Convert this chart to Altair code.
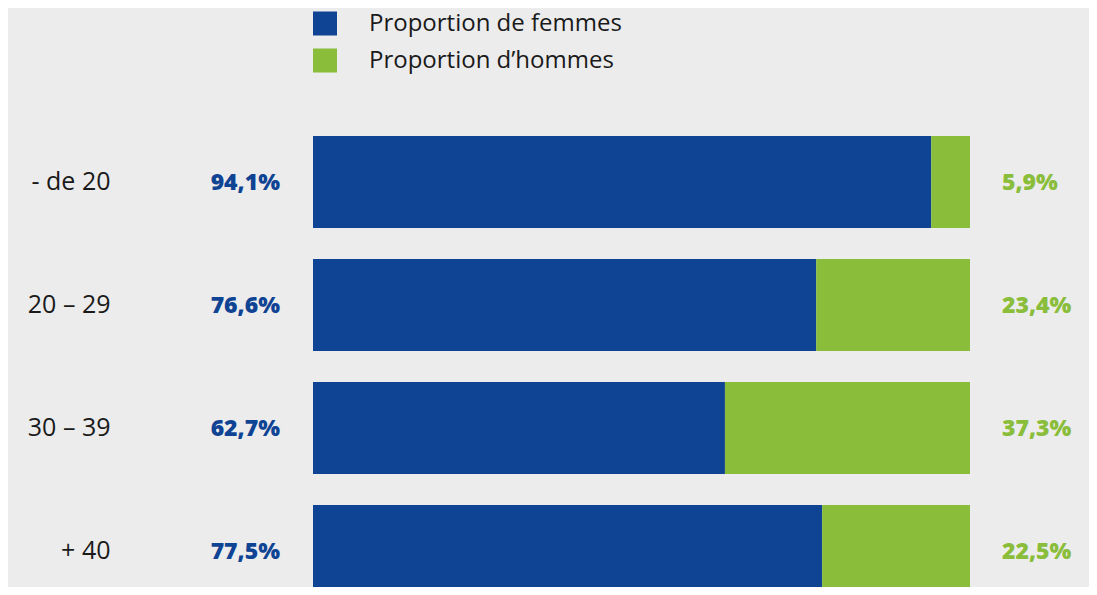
import altair as alt
import pandas as pd

ages = ["- de 20", "20 – 29", "30 – 39", "+ 40"]
femmes = [94.1, 76.6, 62.7, 77.5]
hommes = [5.9, 23.4, 37.3, 22.5]
series = ["Proportion de femmes", "Proportion d’hommes"]
colors = ["#0f4394", "#89bd3a"]

rows = []
for a, f, h in zip(ages, femmes, hommes):
    rows.append({"age": a, "serie": series[0], "val": f, "ord": 0,
                 "lab": f"{f:.1f}".replace(".", ",") + "%"})
    rows.append({"age": a, "serie": series[1], "val": h, "ord": 1,
                 "lab": f"{h:.1f}".replace(".", ",") + "%"})
df = pd.DataFrame(rows)

FONT = "Open Sans"

yscale = alt.Scale(paddingInner=0.252, paddingOuter=0.126, range=[0, 492])
y = alt.Y("age:N", sort=ages, title=None, scale=yscale,
          axis=alt.Axis(domain=False, ticks=False, grid=False, labelFontSize=25,
                        labelFont=FONT, labelColor="#1a1a1a", labelAlign="right",
                        labelPadding=203))

xscale = alt.Scale(domain=[0, 100], nice=False)

bars = alt.Chart(df).mark_bar().encode(
    x=alt.X("val:Q", stack="zero", scale=xscale, axis=None),
    y=y,
    color=alt.Color("serie:N", sort=series,
                    scale=alt.Scale(domain=series, range=colors),
                    legend=alt.Legend(title=None, orient="none", legendX=0, legendY=-109,
                                      symbolType="square", symbolSize=576,
                                      symbolStrokeWidth=0, symbolOpacity=1,
                                      labelFontSize=24, labelFont=FONT, labelLimit=500,
                                      labelColor="#1a1a1a", labelOffset=32,
                                      rowPadding=13, padding=0)),
    order=alt.Order("ord:Q"),
)

lab_f = alt.Chart(df).transform_filter(alt.datum.ord == 0).mark_text(
    align="right", baseline="middle", dx=-33, dy=1, fontSize=23, fontWeight=800,
    font=FONT, color=colors[0]
).encode(x=alt.X(datum=0, scale=xscale), y=alt.Y("age:N", sort=ages), text="lab:N")

lab_h = alt.Chart(df).transform_filter(alt.datum.ord == 1).mark_text(
    align="left", baseline="middle", dx=32, dy=1, fontSize=23, fontWeight=800,
    font=FONT, color=colors[1]
).encode(x=alt.X(datum=100, scale=xscale), y=alt.Y("age:N", sort=ages), text="lab:N")

chart = alt.layer(bars, lab_f, lab_h).properties(
    width=657, height=466.5,
    autosize=alt.AutoSizeParams(type="none"),
    padding={"left": 305, "top": 112.5, "right": 119, "bottom": 0},
    background="#ececec",
).configure_view(stroke=None)

chart.save("out.html", embed_options={"renderer": "svg", "actions": False})
